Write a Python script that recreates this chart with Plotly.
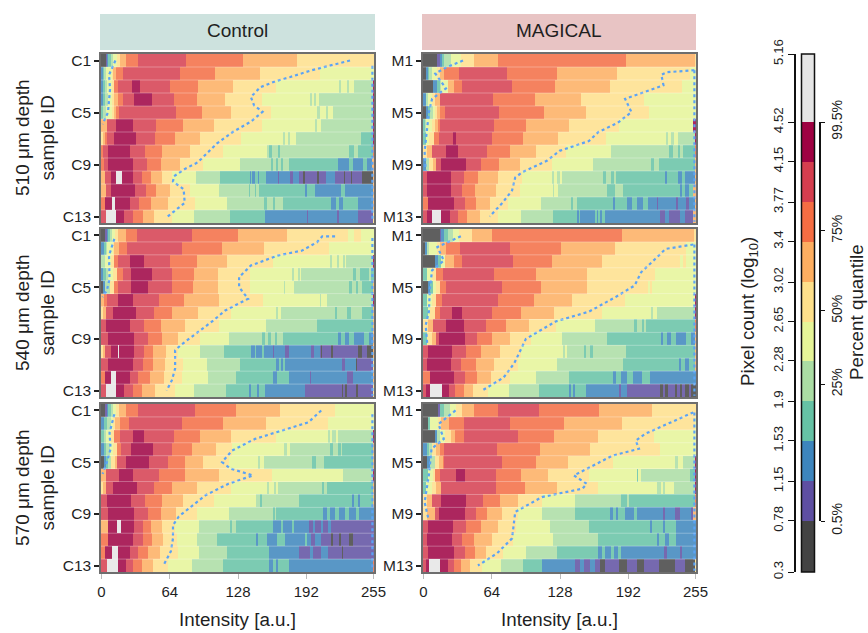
import re
import plotly.graph_objects as go

W, H = 868, 633
CLASSES = "DPBTGYLOREC" + "W"
COLORS = ["#434343", "#5e4fa2", "#3d85bd", "#66c2a5", "#abdda4", "#e6f598",
          "#fee08b", "#fdae61", "#f46d43", "#d53e4f", "#9e0142", "#e5e5e5"]
COUNT_EDGES = [0.3, 0.78, 1.15, 1.53, 1.9, 2.28, 2.65, 3.02, 3.4, 3.77, 4.15, 4.52, 5.16]
COUNT_LABELS = ["0.3", "0.78", "1.15", "1.53", "1.9", "2.28", "2.65", "3.02", "3.4", "3.77", "4.15", "4.52", "5.16"]
QUANTILE_POS = [0.78, 2.06, 2.75, 3.5, 4.52]
QUANTILE_LABELS = ["0.5%", "25%", "50%", "75%", "99.5%"]
INTENSITY_TICKS = [0, 64, 128, 192, 255]
SAMPLE_TICKS = [1, 5, 9, 13]

# Each token: colour class + last intensity of that run
C510 = [
 "D4 P5 B6 T8 G10 Y14 L17 O22 R34 E79 R132 O183 L255",
 "B1 T2 G4 Y9 L10 O13 R20 E73 R106 O148 L204 Y255",
 "B1 T3 G5 Y9 L11 R15 E28 C36 E64 R90 O123 L163 Y222 G224 Y230 G232 Y236 G254 C255",
 "B1 T3 G6 Y9 L11 O15 R20 E30 C47 E67 R89 O115 L150 Y195 G197 Y199 G201 Y203 G254 C255",
 "T1 G4 Y9 L11 O13 R16 E69 R94 O121 L158 Y202 G204 Y210 G212 Y217 G254 C255",
 "O5 E13 C29 E51 R76 O105 L150 Y200 G202 Y205 G254 C255",
 "L1 O3 R5 E11 C32 E50 R68 O92 L130 Y170 G172 Y174 G176 Y182 G243 T254 C255",
 "R1 E6 C26 E40 R56 O82 L113 Y155 G157 T159 G165 T167 G232 T236 G240 T254 R255",
 "R2 E6 C29 E42 R55 O73 L95 Y129 G158 T160 G163 T165 G168 T170 G175 T221 B232 T235 B245 T248 B253 O255",
 "O3 E8 C13 W19 C29 E37 R46 O56 L66 Y88 G111 T139 B140 T141 B143 T146 B147 T154 B165 P166 B176 P179 B185 P188 D190 P202 D203 P210 B218 P227 D228 P233 D234 P244 D254 O255",
 "O4 E8 C31 E41 R51 O64 L82 Y110 G138 T139 G143 T144 G147 T190 B192 T200 B224 T228 B254 O255",
 "R3 C9 W12 C26 E35 R46 O62 L87 Y117 G152 T155 G160 T162 G170 T215 B219 T222 B226 T240 B254 O255",
 "E4 W13 C21 E29 R38 O49 L66 Y86 G120 T153 B192 P193 B220 P222 B240 P254 L255",
]
M510 = [
 "D12 P15 B17 T19 G25 Y35 L47 O69 R189 O254 L255",
 "D2 B4 T5 G7 Y12 L15 O19 R33 E78 R125 O181 L249 Y255",
 "D8 B12 T15 G16 Y22 O28 R36 E82 R123 O174 L242 Y255",
 "B2 G4 Y7 L10 O15 E65 R104 O147 L206 Y255",
 "D2 B4 T6 G8 Y10 L12 O15 R20 E70 R112 O152 L211 Y255",
 "T1 G2 Y7 L10 O13 R15 E66 R96 O136 L183 Y252 C255",
 "T2 Y5 L9 R14 E27 C30 E64 R93 O126 L171 Y227 G229 Y232 G234 Y238 G254 C255",
 "L3 O7 E21 C32 E59 R81 O105 L133 Y175 G230 T233 G238 T240 G243 T254 R255",
 "B2 G5 L8 O11 E16 C39 E53 R70 O90 L120 Y158 G213 T216 G220 T254 O255",
 "E3 C25 E37 R51 O69 L92 Y120 G122 Y125 G127 Y129 G168 T171 G175 T178 G180 T226 B228 T238 B242 T245 B254 O255",
 "E3 C25 E36 R48 O67 L90 Y121 G122 Y126 G172 T179 G187 T240 B242 T245 B248 T252 O255",
 "R4 C28 E38 R49 O62 L79 Y110 G138 T140 G143 T177 B179 T190 B195 T200 B205 T210 B218 P219 B236 P238 B246 P248 B254 O255",
 "E3 C7 W16 C24 E32 R40 O52 L69 Y91 G121 T143 B145 T146 B160 T162 B163 T165 B167 T170 B221 P226 B230 P240 B245 P252 O255",
]
C540 = [
 "D3 P5 B6 T7 G9 Y12 L15 O22 R33 E84 R127 O173 L231 Y236 L243 Y255",
 "B2 T4 G5 Y10 L11 O16 R23 E75 R112 O152 L213 Y255",
 "G3 Y8 L11 R15 E26 C39 E64 R89 O117 L160 Y214 G216 Y220 G222 Y226 G228 Y229 G254 C255",
 "B1 T4 G6 Y10 L14 R20 E27 C47 E66 R86 O109 L139 Y178 G180 Y184 G186 Y187 G235 T238 G242 T250 G252 T255",
 "D1 B3 G7 L11 R15 E27 C43 E66 R85 O109 L139 Y171 G172 Y180 G232 T234 G238 T240 G244 T254 O255",
 "O2 R5 E15 C29 E53 R77 O110 L151 Y204 G205 Y211 G254 C255",
 "L1 O4 E10 C32 E49 R66 O90 L121 Y163 G165 Y168 G218 T220 G230 T233 G244 T254 O255",
 "E4 C26 E39 R55 O78 L110 Y154 G202 T254 O255",
 "E6 C30 E43 R56 O71 L92 Y119 G150 T153 G156 T158 G162 T164 G170 T221 B224 T228 B232 T236 B246 T250 B254 O255",
 "L1 O3 E8 C15 W16 C30 E39 R48 O60 L71 Y92 G114 T140 B143 T144 B150 T152 B160 P161 B172 P175 B196 P199 B204 P205 D206 P215 D217 P240 D244 P248 D254 O255",
 "E6 C29 E38 R48 O59 L76 Y98 G129 T163 B166 T168 B170 T172 B225 P228 B238 D239 P254 L255",
 "R3 C8 W13 C26 E34 R45 O58 L75 Y99 G126 T160 B164 T175 B195 P196 B230 P235 B254 O255",
 "E4 W13 C21 E29 R37 O50 L68 Y86 G116 T138 B140 T145 B147 T153 B190 P225 D226 P228 D230 P238 D240 P254 L255",
]
M540 = [
 "D15 P16 B19 T22 G27 Y33 L45 O64 R186 O253 L255",
 "D1 B3 G5 Y12 L15 O21 R34 E81 R128 O179 L246 Y255",
 "D10 B13 T16 Y20 O28 R36 E83 R120 O167 L240 Y243 L246 Y255",
 "T3 Y7 L11 R18 E66 R105 O153 L217 Y255",
 "D4 B6 T8 Y11 L15 R21 E73 R110 O153 L210 Y212 L214 Y255",
 "T3 Y7 L11 R17 E69 R103 O139 L188 Y254 C255",
 "T4 Y6 L10 R15 E26 C36 E64 R91 O122 L167 Y213 G215 Y218 G254 C255",
 "L4 O8 E21 C37 E58 R77 O98 L124 Y160 G197 T200 G204 T206 G208 T254 R255",
 "T3 L7 O11 E14 C38 E50 R64 O81 L100 Y129 G172 T222 B224 T228 B232 T236 B246 T250 B254 O255",
 "E4 C26 E39 R53 O71 L91 Y130 G132 Y134 G150 T152 G156 T158 G189 T254 O255",
 "E3 C25 E35 R49 O66 L88 Y125 G187 T239 B241 T245 B248 T254 O255",
 "R6 C28 E38 R50 O63 L81 Y105 G136 T177 B180 T185 B190 T196 B204 T212 B255",
 "E2 C6 W17 C23 E29 R37 O46 L60 Y80 G108 T136 B138 T140 B142 T152 B183 P185 B190 P221 D224 P226 D229 P235 D237 P240 D242 P245 D248 P250 D255",
]
C570 = [
 "D3 P5 B6 T8 G10 Y13 L16 O22 R34 E87 R126 O167 L218 Y255",
 "B2 T5 G8 Y10 L12 O17 R25 E75 R113 O154 L212 Y255",
 "T2 G4 Y8 L11 R17 E29 C39 E67 R92 O121 L163 Y212 G214 Y216 G219 Y221 G254 C255",
 "B2 T4 G7 Y10 L14 R18 E27 C48 E66 R84 O107 L122 Y171 G173 Y176 G214 T217 G221 T224 G225 T254 O255",
 "D2 B4 T6 G8 L12 O14 E22 C44 E62 R78 O95 L119 Y146 G148 Y152 G197 T201 G208 T254 O255",
 "O4 E16 C29 E53 R78 O110 L159 Y226 G254 C255",
 "L1 O4 E10 C33 E49 R66 O89 L121 Y155 G157 Y161 G163 Y165 G206 T208 G211 T254 O255",
 "E5 C27 E40 R56 O76 L105 Y144 G148 T150 G185 T234 B236 T240 B242 T254 O255",
 "E6 C30 E43 R55 O69 L89 Y119 G160 T162 G163 T207 B211 T214 B218 T222 B228 T232 B238 T241 B255",
 "O6 C14 W18 C30 E38 R46 O56 L68 Y91 G120 T122 G126 T160 B168 T170 B178 T180 B194 P198 B200 P205 B207 P212 B215 P255",
 "R6 C29 E38 R47 O57 L70 Y89 G108 T144 B146 T155 B164 T172 B190 T192 B196 P200 B205 P215 D217 P222 D224 P232 D235 P255",
 "R3 C9 W15 C26 E34 R43 O54 L71 Y91 G117 T157 B185 P195 B198 P205 B212 P225 D226 P255",
 "E5 W15 C22 E29 R37 O48 L62 Y84 G113 T157 B160 T163 B165 T175 B254 R255",
]
M570 = [
 "D13 P15 T19 G24 Y30 L36 O47 R69 E108 R164 O214 L255",
 "D4 T6 Y13 L16 O23 R37 E81 R131 O186 L254 Y255",
 "D10 B12 G15 Y20 L25 O29 R37 E88 R122 O163 L216 Y255",
 "B3 T5 G7 L11 O15 R19 E68 R109 O156 L221 Y255",
 "D3 B6 G10 L14 O18 R19 E73 R105 O135 L177 Y235 G238 Y243 G254 C255",
 "T4 Y8 L10 R15 E30 C38 E67 R91 O116 L155 Y200 T201 Y203 G249 T254 C255",
 "T2 Y7 L11 O16 E67 R95 O125 L163 Y218 G222 Y224 G226 Y234 G254 C255",
 "L3 O7 E16 C39 E55 R71 O88 L111 Y142 G185 T190 G192 T254 R255",
 "L3 O10 E14 C38 E49 R59 O73 L88 Y111 G142 T174 B177 T180 B182 T188 B197 T200 B224 P226 B235 P240 B250 P252 O255",
 "E4 C27 E39 R53 O69 L86 Y118 G155 T212 B214 T224 B226 T236 B255",
 "E3 C26 E36 R47 O64 L83 Y121 G163 T218 B220 T226 B230 T236 B255",
 "E4 C28 E38 R48 O58 L74 Y96 G125 T163 B167 T170 B175 T178 B182 T185 B225 P228 B240 P242 B255",
 "E2 C5 W15 C22 E28 R35 O43 L54 Y72 G93 T111 B142 P146 B150 P156 B160 P165 D170 P183 D190 P200 D206 P220 D235 P245 D254 L255",
]

# Dotted guide lines: (intensity, sample position)
C510_MAIN_X = [233, 213, 197, 177, 163, 149, 140, 143, 151, 140, 123, 108, 90, 79, 68, 67, 77, 78, 62]
C510_MAIN_Y = [1, 1.4, 1.75, 2.27, 2.6, 3.05, 3.8, 4.45, 4.95, 5.7, 6.5, 7.4, 8.85, 9.3, 9.9, 10.3, 10.9, 11.95, 13]
C510_LOW_X = [13, 7, 8, 7, 6, 1]
C510_LOW_Y = [1, 2.1, 3.2, 4.1, 5, 5.9]
M510_MAIN_X = [254, 228, 223, 225, 189, 195, 182, 164, 155, 127.5, 116, 92.5, 86, 83, 74, 62]
M510_MAIN_Y = [1.75, 1.9, 2.1, 2.9, 3.95, 4.97, 5.8, 6.5, 7.2, 7.95, 8.7, 9.6, 10, 11, 11.95, 13]
M510_LOW_X = [37, 21, 11, 21, 8, 5, 3, 1, 2]
M510_LOW_Y = [1, 1.55, 2, 3.15, 3.95, 5, 6.5, 8, 9.5]
C540_MAIN_X = [219, 207, 202, 188, 165, 140, 129, 129, 137.5, 116, 105, 94, 74, 69, 69, 66, 61]
C540_MAIN_Y = [1.07, 1.07, 1.53, 2.17, 2.56, 3.33, 4.23, 5, 5.9, 6.8, 7.57, 8.27, 9.5, 9.9, 11.3, 12.2, 13]
C540_LOW_X = [12, 7, 7.5, 5, 1]
C540_LOW_Y = [1.27, 2.56, 4.36, 5.26, 5.77]
M540_MAIN_X = [253, 227, 217.5, 204, 198, 180, 155, 124, 96, 85, 75, 55]
M540_MAIN_Y = [1.7, 2.04, 2.8, 3.85, 4.87, 5.77, 6.9, 7.65, 9, 10.9, 12, 13]
M540_LOW_X = [35, 13, 19, 8, 6, 5, 2, 3.5]
M540_LOW_Y = [1.07, 1.9, 2.94, 3.7, 5.1, 6.9, 7.95, 9.4]
C570_MAIN_X = [206, 194, 169, 144, 122.5, 113, 121, 142, 119, 97.5, 72.5, 67, 67, 65, 58]
C570_MAIN_Y = [1, 1.92, 2.56, 3.2, 4.1, 5, 5.5, 6.03, 6.67, 7.56, 9.2, 9.87, 10.9, 11.9, 13]
C570_LOW_X = [12, 7.5, 8.5, 5, 1]
C570_LOW_Y = [1.3, 2.72, 3.97, 5, 5.9]
M570_MAIN_X = [253, 208, 199, 202, 177, 141, 153, 149, 111, 86, 83, 69, 51]
M570_MAIN_Y = [1.15, 2.8, 3.33, 3.97, 4.5, 6.03, 6.67, 7.05, 7.7, 8.85, 10.9, 12.05, 13]
M570_LOW_X = [30, 14, 19, 7.5, 5, 1, 4.5]
M570_LOW_Y = [1, 2.05, 3.2, 3.97, 6, 8.1, 9.36]
RIGHT_START = {"C510": 1.4, "M510": 1.75, "C540": 1.2, "M540": 1.7, "C570": 1.3, "M570": 1.15}
RIGHT_X = 254

PANELS = [
 ("C510", C510, C510_MAIN_X, C510_MAIN_Y, C510_LOW_X, C510_LOW_Y, "C"),
 ("M510", M510, M510_MAIN_X, M510_MAIN_Y, M510_LOW_X, M510_LOW_Y, "M"),
 ("C540", C540, C540_MAIN_X, C540_MAIN_Y, C540_LOW_X, C540_LOW_Y, "C"),
 ("M540", M540, M540_MAIN_X, M540_MAIN_Y, M540_LOW_X, M540_LOW_Y, "M"),
 ("C570", C570, C570_MAIN_X, C570_MAIN_Y, C570_LOW_X, C570_LOW_Y, "C"),
 ("M570", M570, M570_MAIN_X, M570_MAIN_Y, M570_LOW_X, M570_LOW_Y, "M"),
]

FONT = "Liberation Sans"
INK = "#1f1f1f"
LINE_BLUE = "#5ba3f5"
BORDER = "#6e6e6e"
PANEL_X = [(101, 374), (423, 696)]
PANEL_Y = [(54, 223), (229, 397), (404, 572)]


def px_x(p):
    return p / W


def px_y(p):
    return 1 - p / H


def decode(row):
    vals = []
    for cls, end in re.findall(r"([A-Z])(\d+)", row):
        vals += [CLASSES.index(cls)] * (int(end) + 1 - len(vals))
    vals += [vals[-1]] * (256 - len(vals))
    return vals[:256]


stepped = []
n = len(COLORS)
for i, c in enumerate(COLORS):
    stepped += [[i / n, c], [(i + 1) / n, c]]

fig = go.Figure()
layout = {}
shapes = [
    dict(type="rect", xref="paper", yref="paper", x0=px_x(100), x1=px_x(375), y0=px_y(50), y1=px_y(14),
         fillcolor="#cde2de", line=dict(width=0)),
    dict(type="rect", xref="paper", yref="paper", x0=px_x(422), x1=px_x(696), y0=px_y(50), y1=px_y(14),
         fillcolor="#e8c4c4", line=dict(width=0)),
    dict(type="rect", xref="paper", yref="paper", x0=px_x(801.5), x1=px_x(814.5), y0=px_y(572), y1=px_y(54),
         fillcolor="rgba(0,0,0,0)", line=dict(color="#111111", width=1.5)),
]
for k, (name, rows, mx, my, lx, ly, prefix) in enumerate(PANELS):
    idx = k + 1
    col, row = k % 2, k // 2
    suffix = "" if idx == 1 else str(idx)
    xa, ya = f"x{suffix}", f"y{suffix}"
    fig.add_trace(go.Heatmap(z=[decode(r) for r in rows], x=list(range(256)), y=list(range(1, len(rows) + 1)),
                             colorscale=stepped, zmin=-0.5, zmax=n - 0.5, showscale=False, opacity=0.85,
                             xaxis=xa, yaxis=ya, hoverinfo="skip"))
    for i in range(1, len(rows)):
        shapes.append(dict(type="line", xref=f"{xa} domain", yref=ya, x0=0, x1=1, y0=i + 0.5, y1=i + 0.5,
                           line=dict(color="rgba(255,255,255,0.3)", width=1)))
    for xs, ys in ((mx, my), (lx, ly), ([RIGHT_X, RIGHT_X], [RIGHT_START[name], 13.4])):
        fig.add_trace(go.Scatter(x=xs, y=ys, mode="lines", xaxis=xa, yaxis=ya, showlegend=False, hoverinfo="skip",
                                 line=dict(color=LINE_BLUE, width=2.2, dash="3px,3px")))
    layout[f"xaxis{suffix}"] = dict(
        domain=[px_x(PANEL_X[col][0]), px_x(PANEL_X[col][1])], anchor=ya, range=[-0.5, 255.5], automargin=False,
        tickvals=INTENSITY_TICKS, showticklabels=row == 2, ticks="outside" if row == 2 else "", ticklen=5, tickwidth=1,
        tickcolor="#bbbbbb", showgrid=False, zeroline=False, showline=True, mirror=True, linecolor=BORDER, linewidth=1.5,
        tickfont=dict(family=FONT, size=15, color=INK))
    layout[f"yaxis{suffix}"] = dict(
        domain=[px_y(PANEL_Y[row][1]), px_y(PANEL_Y[row][0])], anchor=xa, range=[13.5, 0.5], automargin=False,
        tickvals=SAMPLE_TICKS, ticktext=[f"{prefix}{t}" for t in SAMPLE_TICKS], ticks="outside", ticklen=5, tickwidth=1.5,
        tickcolor="#222222", showgrid=False, zeroline=False, showline=True, mirror=True, linecolor=BORDER, linewidth=1.5,
        tickfont=dict(family=FONT, size=15.5, color=INK))

# colour key
fig.add_trace(go.Heatmap(z=[[i] for i in range(n)], x=[0, 1], y=COUNT_EDGES, colorscale=stepped, zmin=-0.5, zmax=n - 0.5,
                         showscale=False, xaxis="x7", yaxis="y7", hoverinfo="skip"))
layout["xaxis7"] = dict(domain=[px_x(801.5), px_x(814.5)], anchor="y7", range=[0, 1], showticklabels=False, ticks="",
                        automargin=False, showgrid=False, zeroline=False, showline=False)
layout["yaxis7"] = dict(domain=[px_y(572), px_y(54)], anchor="free", position=px_x(795), side="left", range=[0.3, 5.16],
                        tickvals=COUNT_EDGES, ticktext=COUNT_LABELS, tickangle=-90, ticks="outside", ticklen=6, tickwidth=1,
                        automargin=False, tickcolor="#111111", showgrid=False, zeroline=False, showline=True, linecolor="#111111", linewidth=1.5,
                        tickfont=dict(family=FONT, size=13.3, color=INK))
fig.add_trace(go.Scatter(x=[0] * len(QUANTILE_POS), y=QUANTILE_POS, mode="markers", marker=dict(opacity=0, size=1),
                         xaxis="x8", yaxis="y8", showlegend=False, hoverinfo="skip"))
layout["xaxis8"] = dict(domain=[px_x(814), px_x(830)], anchor="y8", range=[0, 1], visible=False, automargin=False)
layout["yaxis8"] = dict(domain=[px_y(521), px_y(122)], anchor="free", position=px_x(820), side="right", range=[0.78, 4.52],
                        tickvals=QUANTILE_POS, ticktext=QUANTILE_LABELS, tickangle=-90, ticks="outside", ticklen=4, tickwidth=1,
                        automargin=False, tickcolor="#111111", showgrid=False, zeroline=False, showline=True, linecolor="#111111", linewidth=1.5,
                        tickfont=dict(family=FONT, size=14, color=INK))


def note(text, x, y, size, angle=0):
    return dict(text=text, x=px_x(x), y=px_y(y), xref="paper", yref="paper", showarrow=False, textangle=angle,
                xanchor="center", yanchor="middle", font=dict(family=FONT, size=size, color=INK))


annotations = [note("Control", 237, 31, 19), note("MAGICAL", 559, 31, 19),
               note("Intensity [a.u.]", 237, 619, 18.8), note("Intensity [a.u.]", 559, 619, 18.8),
               note("510 μm depth<br>sample ID", 35, 138, 19, -90),
               note("540 μm depth<br>sample ID", 35, 313, 19, -90),
               note("570 μm depth<br>sample ID", 35, 488, 19, -90),
               note("Pixel count (log<sub>10</sub>)", 749, 312, 18.8, -90),
               note("Percent quantile", 856, 312, 18.8, -90)]

fig.update_layout(width=W, height=H, margin=dict(l=0, r=0, t=0, b=0), paper_bgcolor="white", plot_bgcolor="white",
                  template="none", showlegend=False, shapes=shapes, annotations=annotations, **layout)
fig.write_html("out.html", config={"displayModeBar": False}, post_script="document.body.style.margin='0';")
